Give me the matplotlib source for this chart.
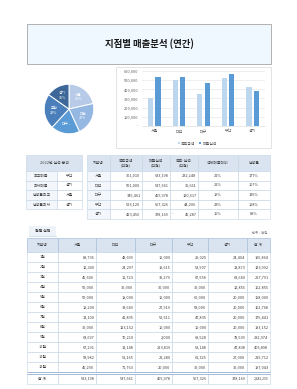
import matplotlib
matplotlib.use('Agg')
import matplotlib.pyplot as plt
from matplotlib.patches import Rectangle
import numpy as np

plt.rcParams['font.family'] = ['Noto Sans CJK KR', 'DejaVu Sans']

W, H = 297, 389

# ---- data ----
branches = ['서울', '대전', '대구', '부산', '경기']
target = [301010, 501000, 345461, 523120, 423456]
sales = [533198, 537661, 465978, 567326, 378169]
gap = [232148, 36661, 120517, 44206, -45287]
share = ['21%', '22%', '19%', '23%', '15%']
rate = ['177%', '107%', '135%', '108%', '89%']
pie_labels = ['서울\n21%', '대전\n22%', '대구...', '부산\n23%', '경기\n15%']

summary_keys = ['최고매출', '최저매출', '달성률최고', '달성률최저']
summary_vals = ['부산', '경기', '서울', '경기']

months = [f'{m}월' for m in range(1, 13)]
m_seoul = [88736, 12300, 45600, 50000, 50000, 18200, 13100, 30000, 63697, 67291, 58982, 45290]
m_daejeon = [48699, 24297, 11723, 30000, 18000, 38649, 41895, 123152, 70210, 13148, 51165, 71763]
m_daegu = [10000, 19615, 39279, 30000, 10000, 27919, 52611, 10000, 2000, 223819, 21280, 20000]
m_busan = [29025, 53907, 67558, 30000, 60000, 58000, 47835, 10000, 68528, 53148, 61325, 30000]
m_gyeonggi = [24404, 13873, 63640, 12855, 20000, 20000, 20000, 20000, 78539, 47838, 27000, 30000]
m_total = [195864, 123992, 227791, 152855, 158000, 162768, 175441, 193152, 282974, 405898, 219712, 197043]
col_totals = [533198, 537661, 465978, 567326, 378169, 2482290]

LINE = '#c3d3e6'
HEAD = '#dae4f1'
TXT = '#404040'
FS = 2.8

fig = plt.figure(figsize=(W / 100, H / 100), dpi=100)
bg = fig.add_axes([0, 0, 1, 1])
bg.set_xlim(0, W)
bg.set_ylim(H, 0)
bg.axis('off')


def rect(x0, y0, x1, y1, fc='white', ec=LINE, lw=0.4, z=1):
    bg.add_patch(Rectangle((x0, y0), x1 - x0, y1 - y0, fc=fc, ec=ec, lw=lw, zorder=z))


def cell_text(x0, x1, y, s, ha='center', fs=FS, **kw):
    if ha == 'center':
        x = (x0 + x1) / 2
    elif ha == 'right':
        x = x1 - 1.5
    else:
        x = x0 + 1.5
    bg.text(x, y, s, ha=ha, va='center', fontsize=fs, color=TXT, zorder=5, **kw)


# ---- title box ----
rect(27, 24, 271, 64, fc='#f0f8ff', ec='#a6a6a6', lw=0.6)
bg.text(149, 44, '지점별 매출분석 (연간)', ha='center', va='center',
        fontsize=6.8, fontweight='bold', color='#1a1a1a', zorder=5)

# ---- pie chart ----
cx, cy, r = 69, 109, 31
pax = fig.add_axes([(cx - r) / W, (H - cy - r) / H, 2 * r / W, 2 * r / H])
pie_colors = ['#b7cbe8', '#94b8e2', '#5b9bd5', '#4a7fbb', '#3d6799']
wedges, texts = pax.pie(sales, colors=pie_colors, startangle=90, counterclock=False,
                        labels=pie_labels, labeldistance=0.62,
                        wedgeprops=dict(ec='white', lw=0.7),
                        textprops=dict(fontsize=2.6, color='white', ha='center', va='center'))
pax.set_aspect('equal')

# ---- bar chart ----
rect(116, 67, 271, 148, fc='white', ec='#d9d9d9', lw=0.5)
bax = fig.add_axes([142 / W, (H - 126) / H, 123 / W, 55 / H])
x = np.arange(len(branches))
bw = 0.21
bax.bar(x - 0.15, target, bw, color='#bdd7ee', zorder=3, label='목표금액')
bax.bar(x + 0.15, sales, bw, color='#5b9bd5', zorder=3, label='매출실적')
bax.set_ylim(0, 600000)
bax.set_xlim(-0.5, 4.5)
bax.set_yticks(range(0, 600001, 100000))
bax.set_yticklabels(['-'] + [f'{v:,}' for v in range(100000, 600001, 100000)])
bax.set_xticks(x)
bax.set_xticklabels(branches)
bax.tick_params(length=0, labelsize=2.8, labelcolor='#595959', pad=2.5)
bax.grid(axis='y', color='#e3e3e3', lw=0.4, zorder=0)
for s in bax.spines.values():
    s.set_visible(False)
bax.spines['bottom'].set_visible(True)
bax.spines['bottom'].set_color('#d9d9d9')
bax.spines['bottom'].set_linewidth(0.4)
bax.set_facecolor('none')
bax.legend(loc='upper center', bbox_to_anchor=(0.45, -0.22), ncol=2, frameon=False,
           fontsize=2.8, handlelength=0.6, handleheight=0.6, handletextpad=0.3,
           columnspacing=0.8, labelcolor='#595959')

# ---- summary table ----
t1x = [26, 57, 82]
hy0, hy1 = 155, 171
rh = 9.6
rect(t1x[0], hy0, t1x[2], hy1, fc=HEAD)
cell_text(t1x[0], t1x[2], (hy0 + hy1) / 2, '2022년 실적 분석')
for i, (k, v) in enumerate(zip(summary_keys, summary_vals)):
    y0 = hy1 + i * rh
    rect(t1x[0], y0, t1x[1], y0 + rh, fc='#f3f6fb')
    rect(t1x[1], y0, t1x[2], y0 + rh)
    cell_text(t1x[0], t1x[1], y0 + rh / 2, k)
    cell_text(t1x[1], t1x[2], y0 + rh / 2, v)

# ---- branch table ----
t2x = [87, 110, 142, 170, 198, 238, 270]
heads = ['지점명', '목표금액\n(천원)', '매출실적\n(천원)', '목표-실적\n(천원)', '전체매출대비', '달성률']
for j, h in enumerate(heads):
    rect(t2x[j], hy0, t2x[j + 1], hy1, fc=HEAD)
    cell_text(t2x[j], t2x[j + 1], (hy0 + hy1) / 2, h, linespacing=1.1)
for i, b in enumerate(branches):
    y0 = hy1 + i * rh
    yc = y0 + rh / 2
    for j in range(6):
        rect(t2x[j], y0, t2x[j + 1], y0 + rh, fc='#f3f6fb' if j == 0 else 'white')
    cell_text(t2x[0], t2x[1], yc, b)
    cell_text(t2x[1], t2x[2], yc, f'{target[i]:,}', ha='right')
    cell_text(t2x[2], t2x[3], yc, f'{sales[i]:,}', ha='right')
    cell_text(t2x[3], t2x[4], yc, f'{abs(gap[i]):,}', ha='right')
    if gap[i] < 0:
        cell_text(t2x[3], t2x[4], yc, '-', ha='left')
    cell_text(t2x[4], t2x[5], yc, share[i])
    cell_text(t2x[5], t2x[6], yc, rate[i])

# ---- monthly table ----
rect(29, 226, 56, 236, fc='#eef3fa', ec='none')
bg.plot([29, 56], [236, 236], color=LINE, lw=0.5, zorder=2)
cell_text(29, 56, 231, '월별 실적', fontweight='bold')
bg.text(268, 233, '단위 : 천원', ha='right', va='center', fontsize=2.5, color='#7f7f7f')

mx = [27, 58, 96, 135, 172, 208, 247, 270]
mh0, mh1 = 238, 252
mrh = 10
mheads = ['지점명'] + branches + ['합 계']
for j, h in enumerate(mheads):
    rect(mx[j], mh0, mx[j + 1], mh1, fc=HEAD, ec='#a9c0dd', lw=0.5)
    cell_text(mx[j], mx[j + 1], (mh0 + mh1) / 2, h)
cols = [m_seoul, m_daejeon, m_daegu, m_busan, m_gyeonggi, m_total]
for i, m in enumerate(months):
    y0 = mh1 + i * mrh
    yc = y0 + mrh / 2
    for j in range(7):
        rect(mx[j], y0, mx[j + 1], y0 + mrh)
    cell_text(mx[0], mx[1], yc, m)
    for j, c in enumerate(cols):
        cell_text(mx[j + 1], mx[j + 2], yc, f'{c[i]:,}', ha='right')
ty0 = mh1 + 12 * mrh + 1.5
ty1 = ty0 + 10.5
for j in range(7):
    rect(mx[j], ty0, mx[j + 1], ty1)
bg.plot([mx[0], mx[-1]], [mh1 + 12 * mrh, mh1 + 12 * mrh], color='#8eaad0', lw=0.5, zorder=3)
bg.plot([mx[0], mx[-1]], [ty0, ty0], color='#8eaad0', lw=0.5, zorder=3)
tyc = (ty0 + ty1) / 2
cell_text(mx[0], mx[1], tyc, '합 계')
for j, v in enumerate(col_totals):
    cell_text(mx[j + 1], mx[j + 2], tyc, f'{v:,}', ha='right', fs=FS if j < 5 else 2.3)

fig.savefig('out.png', dpi=100, facecolor='white')
